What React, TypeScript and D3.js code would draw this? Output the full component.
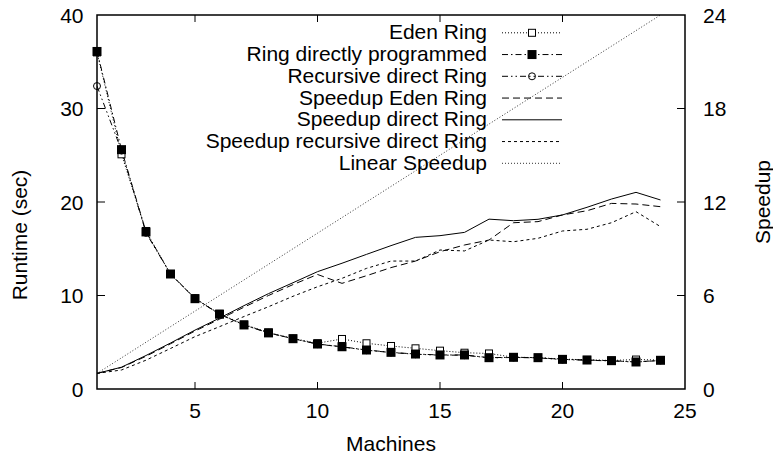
import React from "react";
import * as d3 from "d3";

const machines = [1,2,3,4,5,6,7,8,9,10,11,12,13,14,15,16,17,18,19,20,21,22,23,24];
const edenRuntime = [36.0,25.1,16.9,12.3,9.7,8.05,6.9,6.05,5.4,4.9,5.35,4.89,4.6,4.35,4.1,3.88,3.8,3.4,3.35,3.2,3.12,3.05,3.15,3.1];
const directRuntime = [36.1,25.6,16.8,12.3,9.66,8.0,6.85,6.0,5.38,4.81,4.52,4.17,3.92,3.74,3.64,3.64,3.35,3.39,3.35,3.17,3.1,3.03,2.89,3.07];
const recursiveRuntime = [32.4,25.5,16.7,12.3,9.7,8.0,6.85,6.0,5.38,4.8,4.5,4.15,3.9,3.72,3.62,3.62,3.33,3.37,3.33,3.15,3.08,3.0,2.88,3.05];
const edenSpeedup = [1,1.38,2.1,2.9,3.72,4.48,5.25,6.0,6.7,7.35,6.78,7.27,7.79,8.21,8.81,9.24,9.56,10.67,10.74,11.17,11.44,11.91,11.87,11.7];
const directSpeedup = [1,1.4,2.15,2.95,3.78,4.55,5.35,6.12,6.82,7.53,8.07,8.64,9.2,9.73,9.84,10.05,10.9,10.8,10.89,11.17,11.66,12.19,12.62,12.13];
const recursiveSpeedup = [1,1.22,1.85,2.6,3.36,4.0,4.65,5.28,5.95,6.56,7.1,7.74,8.21,8.21,8.92,8.86,9.56,9.45,9.67,10.14,10.25,10.67,11.38,10.42];
const linearSpeedup = [1,2,3,4,5,6,7,8,9,10,11,12,13,14,15,16,17,18,19,20,21,22,23,24];

const xTicks = [5,10,15,20,25];
const yLeftTicks = [0,10,20,30,40];
const yRightTicks = [0,6,12,18,24];

const W = 773, H = 456;
const L = 97, R = 685, T = 15, B = 389;
const FONT = "'Liberation Sans', Arial, Helvetica, sans-serif";
const FS = 21;

type Series = {
  name: string;
  values: number[];
  axis: "L" | "R";
  dash: string | null;
  color: string;
  marker: "openSquare" | "filledSquare" | "openCircle" | null;
};

const series: Series[] = [
  { name: "Eden Ring", values: edenRuntime, axis: "L", dash: "1,2", color: "#000", marker: "openSquare" },
  { name: "Ring directly programmed", values: directRuntime, axis: "L", dash: "6,3,1.5,3", color: "#000", marker: "filledSquare" },
  { name: "Recursive direct Ring", values: recursiveRuntime, axis: "L", dash: "6,3,1.5,3,1.5,3", color: "#000", marker: "openCircle" },
  { name: "Speedup Eden Ring", values: edenSpeedup, axis: "R", dash: "7,4", color: "#000", marker: null },
  { name: "Speedup direct Ring", values: directSpeedup, axis: "R", dash: null, color: "#000", marker: null },
  { name: "Speedup recursive direct Ring", values: recursiveSpeedup, axis: "R", dash: "3,3", color: "#000", marker: null },
  { name: "Linear Speedup", values: linearSpeedup, axis: "R", dash: "1,2", color: "#333", marker: null },
];

function Marker({ kind, x, y }: { kind: Series["marker"]; x: number; y: number }) {
  if (kind === "openSquare") return <rect x={x - 3.5} y={y - 3.5} width={7} height={7} fill="#fff" stroke="#000" strokeWidth={1} />;
  if (kind === "filledSquare") return <rect x={x - 4.5} y={y - 4.5} width={9} height={9} fill="#000" />;
  if (kind === "openCircle") return <circle cx={x} cy={y} r={3.5} fill="none" stroke="#000" strokeWidth={1} />;
  return null;
}

export default function App() {
  const x = d3.scaleLinear().domain([1, 25]).range([L, R]);
  const yL = d3.scaleLinear().domain([0, 40]).range([B, T]);
  const yR = d3.scaleLinear().domain([0, 24]).range([B, T]);

  const drawOrder = [6, 3, 5, 4, 0, 2, 1];

  return (
    <svg width={W} height={H} style={{ position: "absolute", left: 0, top: 0, background: "#fff" }} fontFamily={FONT}>
      <rect x={0} y={0} width={W} height={H} fill="#fff" />
      <defs>
        <clipPath id="plot"><rect x={L} y={T - 1} width={R - L} height={B - T + 2} /></clipPath>
      </defs>

      {/* series lines */}
      <g clipPath="url(#plot)">
        {drawOrder.map((i) => {
          const s = series[i];
          const ys = s.axis === "L" ? yL : yR;
          const line = d3.line<number>().x((_, k) => x(machines[k])).y((v) => ys(v));
          return (
            <path key={s.name} d={line(s.values) || ""} fill="none" stroke={s.color} strokeWidth={1}
              strokeDasharray={s.dash || undefined} />
          );
        })}
      </g>
      {/* markers */}
      {[0, 2, 1].map((i) => {
        const s = series[i];
        return (
          <g key={"m" + s.name}>
            {s.values.map((v, k) => (
              <Marker key={k} kind={s.marker} x={x(machines[k])} y={yL(v)} />
            ))}
          </g>
        );
      })}

      {/* frame */}
      <rect x={L} y={T} width={R - L} height={B - T} fill="none" stroke="#000" strokeWidth={1.5} />

      {/* x ticks */}
      {xTicks.map((t) => (
        <g key={"x" + t}>
          {t !== 25 && <line x1={x(t)} x2={x(t)} y1={B} y2={B - 7} stroke="#000" strokeWidth={1} />}
          {t !== 25 && <line x1={x(t)} x2={x(t)} y1={T} y2={T + 7} stroke="#000" strokeWidth={1} />}
          <text x={x(t)} y={418} textAnchor="middle" fontSize={FS}>{t}</text>
        </g>
      ))}
      {/* left ticks */}
      {yLeftTicks.map((t) => (
        <g key={"yl" + t}>
          {t !== 0 && t !== 40 && <line x1={L} x2={L + 8} y1={yL(t)} y2={yL(t)} stroke="#000" strokeWidth={1} />}
          <text x={83.5} y={yL(t)} dy="0.36em" textAnchor="end" fontSize={FS}>{t}</text>
        </g>
      ))}
      {/* right ticks */}
      {yRightTicks.map((t) => (
        <g key={"yr" + t}>
          {t !== 0 && t !== 24 && <line x1={R} x2={R - 8} y1={yR(t)} y2={yR(t)} stroke="#000" strokeWidth={1} />}
          <text x={703} y={yR(t)} dy="0.36em" textAnchor="start" fontSize={FS}>{t}</text>
        </g>
      ))}

      {/* axis titles */}
      <text x={(L + R) / 2} y={451} textAnchor="middle" fontSize={FS}>Machines</text>
      <text transform={`translate(27,235) rotate(-90)`} textAnchor="middle" fontSize={FS}>Runtime (sec)</text>
      <text transform={`translate(770,202) rotate(-90)`} textAnchor="middle" fontSize={FS}>Speedup</text>

      {/* legend */}
      {series.map((s, i) => {
        const base = 39.3 + 21.75 * i;
        const ly = base - 6.5;
        return (
          <g key={"lg" + s.name}>
            <text x={487} y={base} textAnchor="end" fontSize={FS}>{s.name}</text>
            <line x1={502} x2={562} y1={ly} y2={ly} stroke={s.color} strokeWidth={1} strokeDasharray={s.dash || undefined} />
            <Marker kind={s.marker} x={532} y={ly} />
          </g>
        );
      })}
    </svg>
  );
}
